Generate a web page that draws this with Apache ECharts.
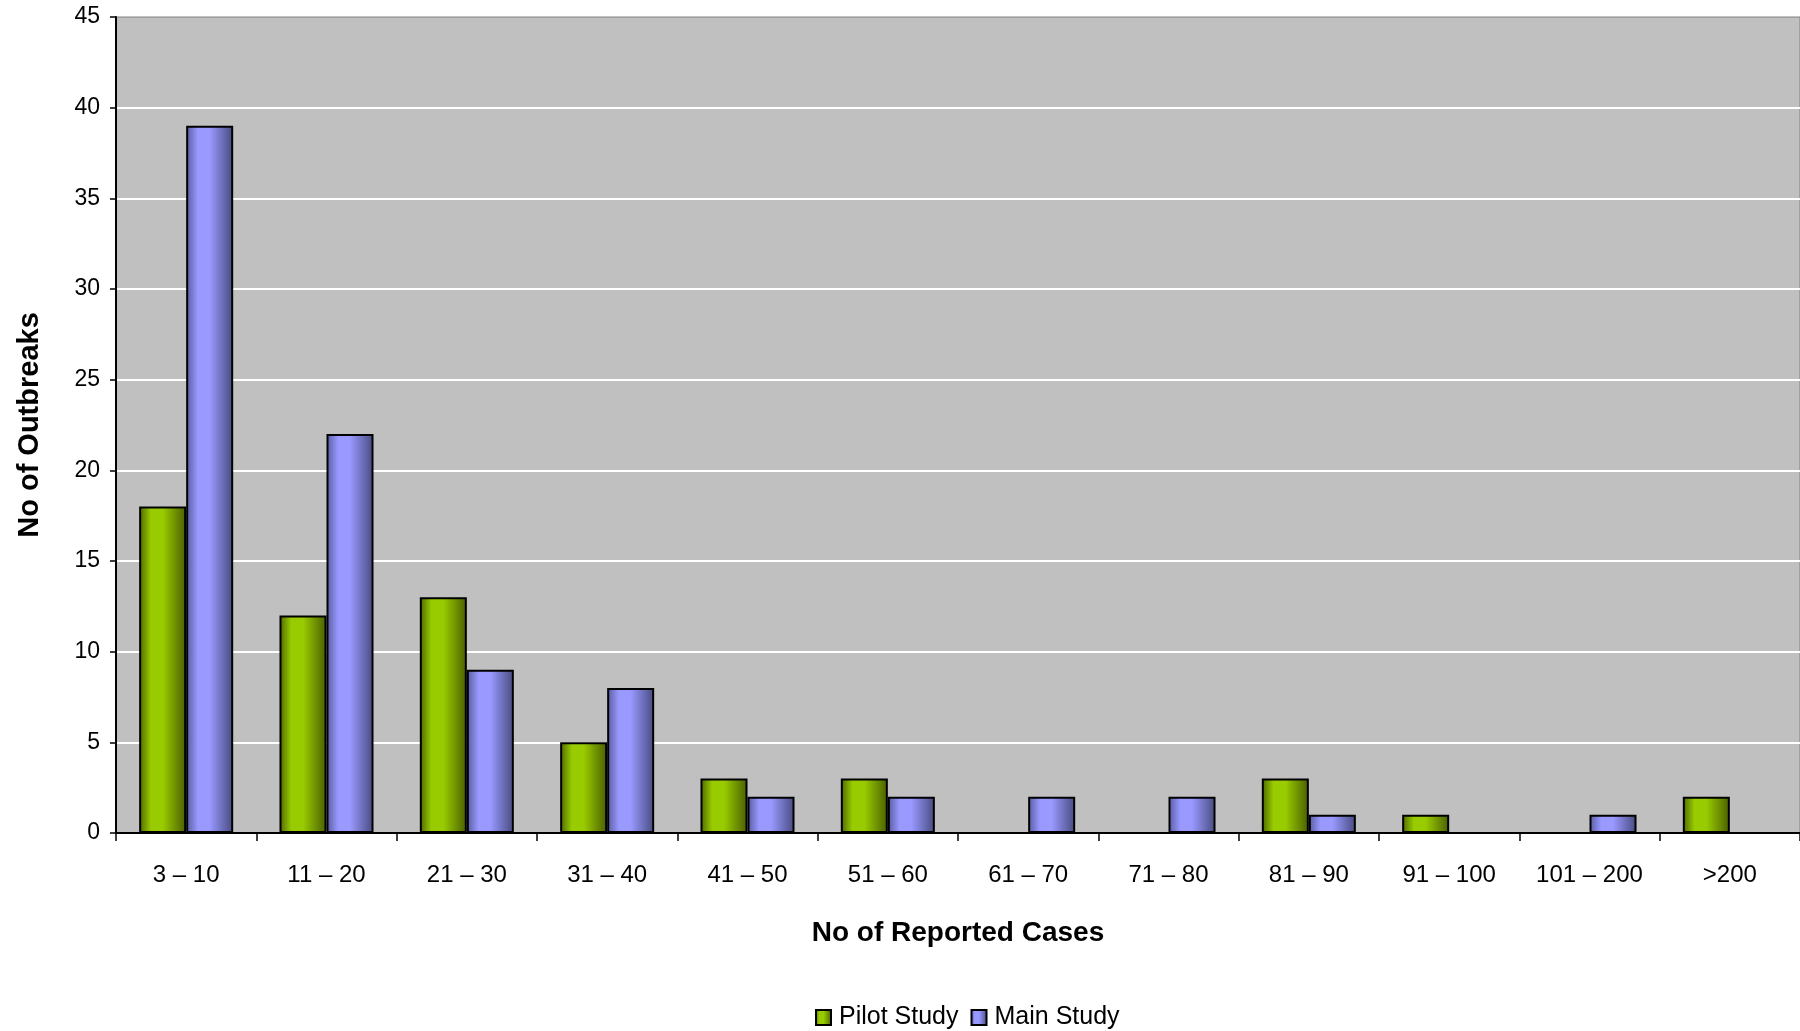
<!DOCTYPE html>
<html>
<head>
<meta charset="utf-8">
<title>Outbreaks by number of reported cases</title>
<script src="https://cdn.jsdelivr.net/npm/echarts@6/dist/echarts.min.js"></script>
<style>
  html, body { margin: 0; padding: 0; background: #ffffff; }
  #chart { width: 1800px; height: 1031px; }
</style>
</head>
<body>
<div id="chart"></div>
<script>
// Case-count bands on the x axis
const categories = ['3 – 10', '11 – 20', '21 – 30', '31 – 40', '41 – 50', '51 – 60',
                    '61 – 70', '71 – 80', '81 – 90', '91 – 100', '101 – 200', '>200'];

// Number of outbreaks per band
const pilotStudy = [18, 12, 13, 5, 3, 3, 0, 0, 3, 1, 0, 2];
const mainStudy  = [39, 22, 9, 8, 2, 2, 2, 2, 1, 0, 1, 0];

// Value axis
const yMin = 0, yMax = 45, yStep = 5;

const FONT = '"Liberation Sans", Arial, sans-serif';

// Cylinder-like horizontal shading for each bar
function shade(dark, light, darker) {
  return new echarts.graphic.LinearGradient(0, 0, 1, 0, [
    { offset: 0.00, color: dark },
    { offset: 0.25, color: light },
    { offset: 0.50, color: light },
    { offset: 1.00, color: darker }
  ]);
}

const chart = echarts.init(document.getElementById('chart'), null, { renderer: 'canvas' });

chart.setOption({
  backgroundColor: '#ffffff',
  animation: false,
  textStyle: { fontFamily: FONT, color: '#000' },
  grid: {
    left: 116, right: 0, top: 17, bottom: 198,
    outerBoundsMode: 'none',
    containLabel: false,
    show: true,
    backgroundColor: '#c0c0c0',
    borderColor: '#808080',
    borderWidth: 1
  },
  legend: {
    data: ['Pilot Study', 'Main Study'],
    left: 810,
    top: 1000,
    itemWidth: 15,
    itemHeight: 15,
    itemGap: 12,
    icon: 'rect',
    textStyle: { fontFamily: FONT, fontSize: 25, color: '#000', padding: [0, 0, 0, 3] }
  },
  xAxis: {
    type: 'category',
    data: categories,
    boundaryGap: true,
    name: 'No of Reported Cases',
    nameLocation: 'middle',
    nameGap: 86,
    nameTextStyle: { fontFamily: FONT, fontSize: 28, fontWeight: 'bold', color: '#000' },
    axisLine: { show: true, lineStyle: { color: '#000', width: 2 } },
    axisTick: { show: true, alignWithLabel: false, length: 8, lineStyle: { color: '#000', width: 1.5 } },
    axisLabel: { fontFamily: FONT, fontSize: 24, color: '#000', margin: 30, interval: 0 },
    splitLine: { show: false }
  },
  yAxis: {
    type: 'value',
    min: yMin, max: yMax, interval: yStep,
    name: 'No of Outbreaks',
    nameLocation: 'middle',
    nameGap: 72,
    nameRotate: 90,
    nameTextStyle: { fontFamily: FONT, fontSize: 29, fontWeight: 'bold', color: '#000' },
    axisLine: { show: true, lineStyle: { color: '#000', width: 2 } },
    axisTick: { show: true, length: 6, lineStyle: { color: '#000', width: 1.5 } },
    axisLabel: { fontFamily: FONT, fontSize: 23, color: '#000', margin: 16 },
    splitLine: { show: true, showMinLine: false, showMaxLine: false, lineStyle: { color: '#ffffff', width: 2 } }
  },
  series: [
    {
      name: 'Pilot Study',
      type: 'bar',
      data: pilotStudy,
      barGap: '0%',
      barCategoryGap: '33%',
      itemStyle: {
        color: shade('#4d6600', '#99cc00', '#4a5e00'),
        borderColor: '#000',
        borderWidth: 2
      }
    },
    {
      name: 'Main Study',
      type: 'bar',
      data: mainStudy,
      barGap: '0%',
      barCategoryGap: '33%',
      itemStyle: {
        color: shade('#565b9c', '#9999ff', '#474a7e'),
        borderColor: '#000',
        borderWidth: 2
      }
    }
  ]
});
</script>
</body>
</html>
